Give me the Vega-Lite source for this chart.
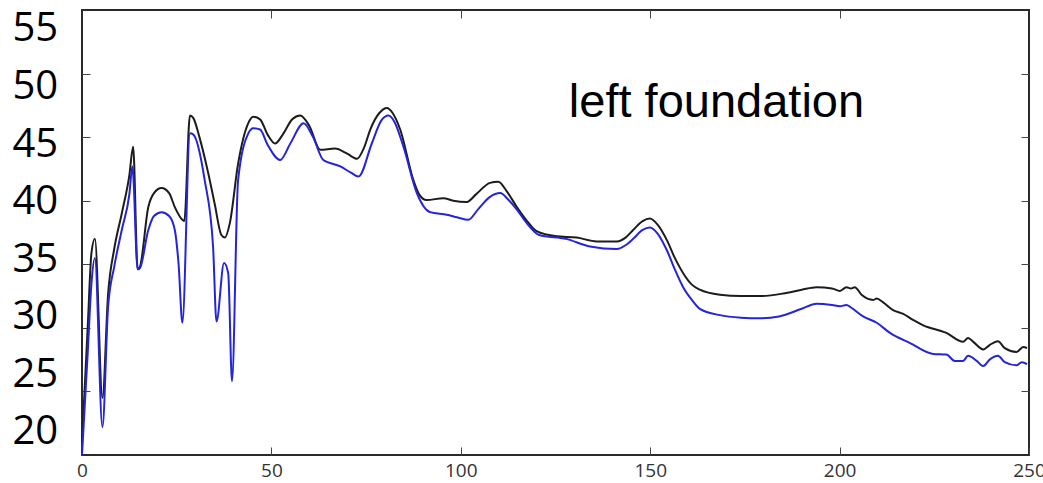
{
  "$schema": "https://vega.github.io/schema/vega-lite/v6.json",
  "width": 947,
  "height": 445,
  "autosize": {"type": "none"},
  "padding": {"left": 82, "top": 10, "right": 14, "bottom": 28},
  "background": "white",
  "config": {"view": {"stroke": "#2a2a2a", "strokeWidth": 2}},
  "datasets": {
    "black": [
      {"x":0,"y":21},{"x":1.5,"y":30},{"x":2.5,"y":35.9},{"x":3.4,"y":37.0},{"x":5.4,"y":24.5},{"x":6.9,"y":32.7},{"x":8.5,"y":36.2},{"x":10.5,"y":39.0},{"x":12.5,"y":42},{"x":13.5,"y":44.25},{"x":14.7,"y":34.6},{"x":15.3,"y":34.8},{"x":17.5,"y":39.5},{"x":19,"y":40.6},{"x":21,"y":41.0},{"x":23,"y":40.6},{"x":24.5,"y":39.5},{"x":26.5,"y":38.5},{"x":27,"y":38.4},{"x":28.5,"y":46.7},{"x":29.4,"y":46.5},{"x":31,"y":45},{"x":33.3,"y":42.2},{"x":35,"y":39.8},{"x":36.8,"y":37.3},{"x":37.7,"y":37.1},{"x":39,"y":38.2},{"x":41.2,"y":42.9},{"x":43.9,"y":46.1},{"x":45.2,"y":46.6},{"x":47,"y":46.4},{"x":49,"y":45.2},{"x":51,"y":44.5},{"x":53,"y":45.2},{"x":55.5,"y":46.4},{"x":57.6,"y":46.7},{"x":60,"y":45.9},{"x":62.9,"y":44.0},{"x":66.8,"y":44.1},{"x":70,"y":43.7},{"x":72.6,"y":43.3},{"x":74.5,"y":44.2},{"x":76.1,"y":45.6},{"x":78.5,"y":46.9},{"x":80.5,"y":47.3},{"x":82,"y":46.9},{"x":84,"y":45.6},{"x":87.5,"y":41.6},{"x":89,"y":40.5},{"x":91,"y":40.05},{"x":95.4,"y":40.2},{"x":98,"y":40.0},{"x":101.6,"y":39.9},{"x":104,"y":40.5},{"x":107.7,"y":41.4},{"x":109.9,"y":41.5},{"x":112,"y":40.8},{"x":114.8,"y":39.5},{"x":117.5,"y":38.4},{"x":120,"y":37.6},{"x":125.3,"y":37.2},{"x":130.6,"y":37.1},{"x":135.9,"y":36.8},{"x":141.2,"y":36.8},{"x":143.5,"y":37.1},{"x":145.5,"y":37.7},{"x":148,"y":38.4},{"x":149.9,"y":38.6},{"x":152,"y":38.1},{"x":154.4,"y":36.9},{"x":156.5,"y":35.5},{"x":158.7,"y":34.3},{"x":161,"y":33.4},{"x":163.1,"y":33.0},{"x":168.4,"y":32.6},{"x":174,"y":32.5},{"x":179,"y":32.5},{"x":185.1,"y":32.7},{"x":190,"y":33.0},{"x":193.9,"y":33.2},{"x":198,"y":33.1},{"x":200.1,"y":32.9},{"x":201.8,"y":33.2},{"x":203,"y":33.1},{"x":204,"y":33.2},{"x":205.8,"y":32.6},{"x":208.9,"y":32.2},{"x":209.8,"y":32.3},{"x":211.5,"y":32.0},{"x":214.1,"y":31.4},{"x":216.8,"y":31.1},{"x":219.5,"y":30.6},{"x":222.1,"y":30.2},{"x":228.2,"y":29.6},{"x":232.6,"y":28.9},{"x":233.9,"y":29.2},{"x":235.3,"y":28.9},{"x":237.9,"y":28.3},{"x":239.6,"y":28.65},{"x":241.8,"y":28.95},{"x":243.6,"y":28.4},{"x":246.7,"y":28.1},{"x":248.5,"y":28.5},{"x":249.5,"y":28.4}
    ],
    "blue": [
      {"x":0,"y":20},{"x":1.5,"y":28},{"x":2.5,"y":33.5},{"x":3.4,"y":35.5},{"x":5.4,"y":22.2},{"x":6.9,"y":31.7},{"x":8.5,"y":34.8},{"x":10.5,"y":37.7},{"x":12.5,"y":40.5},{"x":13.3,"y":42.7},{"x":14.7,"y":34.6},{"x":15.3,"y":34.7},{"x":17.5,"y":37.7},{"x":19,"y":38.8},{"x":21,"y":39.1},{"x":23,"y":38.8},{"x":24.5,"y":37.7},{"x":25.5,"y":35},{"x":26.5,"y":30.4},{"x":28.5,"y":45.3},{"x":29.4,"y":45.2},{"x":32.4,"y":41.6},{"x":34.6,"y":36.4},{"x":35.5,"y":30.5},{"x":37.5,"y":35.1},{"x":38.6,"y":34.3},{"x":39.6,"y":25.8},{"x":41.2,"y":41.6},{"x":43.9,"y":45.3},{"x":45.2,"y":45.7},{"x":47,"y":45.6},{"x":49,"y":44.4},{"x":52.3,"y":43.2},{"x":55,"y":44.5},{"x":58.5,"y":46.1},{"x":61,"y":45},{"x":63.7,"y":43.2},{"x":68.2,"y":42.7},{"x":71,"y":42.2},{"x":73,"y":41.9},{"x":76.5,"y":44.5},{"x":79,"y":46.3},{"x":80.9,"y":46.7},{"x":82.5,"y":46.2},{"x":84.9,"y":44.2},{"x":88.4,"y":40.6},{"x":91.9,"y":39.1},{"x":96.3,"y":38.9},{"x":99,"y":38.7},{"x":102,"y":38.5},{"x":104.5,"y":39.3},{"x":107.7,"y":40.3},{"x":110.4,"y":40.6},{"x":112.5,"y":40.1},{"x":114.8,"y":39.3},{"x":117.5,"y":38.2},{"x":120.7,"y":37.3},{"x":127.8,"y":37.0},{"x":134.1,"y":36.4},{"x":141.2,"y":36.2},{"x":143.5,"y":36.5},{"x":145.5,"y":37.0},{"x":148,"y":37.7},{"x":149.9,"y":37.9},{"x":152,"y":37.4},{"x":154.4,"y":36.1},{"x":156.5,"y":34.6},{"x":158.7,"y":33.2},{"x":161,"y":32.2},{"x":163.1,"y":31.5},{"x":168.4,"y":31.0},{"x":174,"y":30.8},{"x":179,"y":30.75},{"x":184,"y":30.9},{"x":190,"y":31.5},{"x":193.9,"y":31.9},{"x":198,"y":31.8},{"x":200.1,"y":31.7},{"x":201.8,"y":31.8},{"x":203,"y":31.6},{"x":206.2,"y":30.9},{"x":209.8,"y":30.4},{"x":213.3,"y":29.6},{"x":218.6,"y":28.8},{"x":224.7,"y":27.95},{"x":228.2,"y":27.9},{"x":230.4,"y":27.4},{"x":232.6,"y":27.4},{"x":233.9,"y":27.8},{"x":236.2,"y":27.4},{"x":237.9,"y":27.0},{"x":239.6,"y":27.5},{"x":241.8,"y":27.8},{"x":243.6,"y":27.3},{"x":246.7,"y":27.05},{"x":248.1,"y":27.3},{"x":249.5,"y":27.15}
    ]
  },
  "layer": [
    {
      "layer": [
        {
          "data": {"name": "black"},
          "mark": {"type": "line", "color": "#1c1c1c", "strokeWidth": 2, "interpolate": "monotone"},
          "encoding": {
            "x": {"field": "x", "type": "quantitative", "scale": {"domain": [0, 250], "nice": false},
              "axis": {"orient": "bottom", "title": null, "values": [0, 50, 100, 150, 200, 250], "domain": false, "grid": false,
                "tickSize": -8, "tickColor": "#444", "labelPadding": 14, "labelFont": "Open Sans", "labelFontSize": 19, "labelColor": "#333", "labelBaseline": "top", "labelFlush": false}},
            "y": {"field": "y", "type": "quantitative", "scale": {"domain": [20, 55], "nice": false, "zero": false},
              "axis": {"orient": "left", "title": null, "values": [25, 30, 35, 40, 45, 50], "domain": false, "grid": false, "labels": false, "tickSize": -8, "tickColor": "#444"}}
          }
        },
        {
          "data": {"name": "blue"},
          "mark": {"type": "line", "color": "#2424d8", "strokeWidth": 2, "interpolate": "monotone"},
          "encoding": {
            "x": {"field": "x", "type": "quantitative"},
            "y": {"field": "y", "type": "quantitative"}
          }
        },
        {
          "data": {"values": [{"label": "left foundation"}]},
          "mark": {"type": "text", "font": "Liberation Sans", "fontSize": 47, "color": "black", "align": "center", "baseline": "alphabetic"},
          "encoding": {
            "x": {"datum": 167.5},
            "y": {"datum": 46.58},
            "text": {"field": "label"}
          }
        }
      ]
    },
    {
      "data": {"name": "black"},
      "mark": {"type": "point", "opacity": 0},
      "encoding": {
        "x": {"field": "x", "type": "quantitative", "scale": {"domain": [0, 250], "nice": false},
          "axis": {"orient": "top", "title": null, "values": [50, 100, 150, 200], "domain": false, "grid": false, "labels": false, "tickSize": -8, "tickColor": "#444"}},
        "y": {"field": "y", "type": "quantitative", "scale": {"domain": [18.0, 56.65], "nice": false, "zero": false},
          "axis": {"orient": "left", "title": null, "values": [20, 25, 30, 35, 40, 45, 50, 55], "domain": false, "grid": false, "ticks": false, "tickSize": 0,
            "labelPadding": 70, "labelAlign": "left", "labelBaseline": "middle", "labelFont": "Open Sans", "labelFontSize": 40, "labelColor": "#000", "labelFlush": false, "labelOverlap": false}}
      }
    },
    {
      "data": {"name": "black"},
      "mark": {"type": "point", "opacity": 0},
      "encoding": {
        "x": {"field": "x", "type": "quantitative", "scale": {"domain": [0, 250], "nice": false}, "axis": null},
        "y": {"field": "y", "type": "quantitative", "scale": {"domain": [20, 55], "nice": false, "zero": false},
          "axis": {"orient": "right", "title": null, "values": [25, 30, 35, 40, 45, 50], "domain": false, "grid": false, "labels": false, "tickSize": -8, "tickColor": "#444"}}
      }
    }
  ],
  "resolve": {"scale": {"x": "independent", "y": "independent"}, "axis": {"x": "independent", "y": "independent"}}
}
